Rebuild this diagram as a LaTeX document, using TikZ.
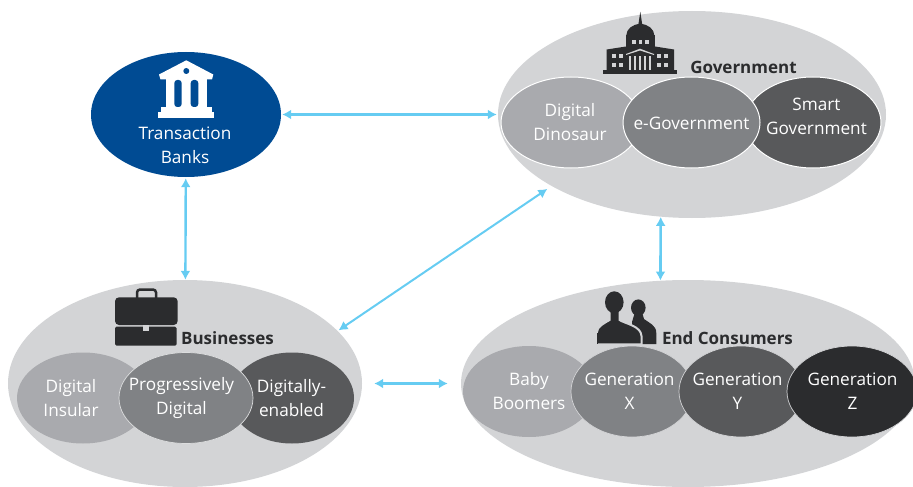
\documentclass[tikz,border=0pt]{standalone}
\usepackage{fontspec}
\setmainfont{Open Sans}
\usetikzlibrary{arrows.meta,shapes.geometric}
\definecolor{backgrey}{HTML}{D3D4D6}
\definecolor{lightgrey}{HTML}{A9AAAE}
\definecolor{midgrey}{HTML}{808285}
\definecolor{darkgrey}{HTML}{58595B}
\definecolor{icongrey}{HTML}{2B2C2E}
\definecolor{bankblue}{HTML}{004B93}
\definecolor{linkblue}{HTML}{66CCF2}
\tikzset{
	oval/.style={ellipse,inner sep=0pt,fill=#1},
	txt/.style={text=white,align=center,inner sep=0pt,font=\fontsize{17.2}{24}\selectfont},
	head/.style={text=icongrey,inner sep=0pt,font=\fontsize{17}{20}\selectfont\bfseries},
	link/.style={<->,line width=3pt,linkblue},
}
\begin{document}
\begin{tikzpicture}[>={Latex[length=9pt,width=10pt]},x=1pt,y=-1pt]
	\useasboundingbox (0,0) rectangle (913,487);

	% groups
	\node[oval=bankblue,minimum width=190pt,minimum height=125pt] (banks) at (186,114.5) {};
	\node[oval=backgrey,minimum width=388pt,minimum height=207pt] (gov) at (692,114.5) {};
	\node[oval=backgrey,minimum width=354pt,minimum height=207pt] (biz) at (185,383.5) {};
	\node[oval=backgrey,minimum width=454pt,minimum height=207pt] (cons) at (688,383.5) {};

	% government
	\tikzset{every node/.append style={minimum height=91pt}}
	\node[oval=lightgrey,draw=white,line width=1pt,minimum width=140pt] (dino) at (571,122.5) {};
	\node[oval=darkgrey,draw=white,line width=1pt,minimum width=136pt] (smart) at (813,122.5) {};
	\node[oval=midgrey,draw=white,line width=1pt,minimum width=137pt] (egov) at (691.5,122.5) {};

	% businesses
	\node[oval=lightgrey,minimum width=132pt] (insular) at (83,398) {};
	\node[oval=darkgrey,minimum width=124pt] (enabled) at (292,398) {};
	\node[oval=midgrey,draw=backgrey!80!white,line width=.7pt,minimum width=134pt] (progress) at (186,398) {};

	% consumers
	\node[oval=lightgrey,minimum width=132pt] (baby) at (529,391.5) {};
	\node[oval=midgrey,draw=backgrey,line width=.7pt,minimum width=122pt] (genx) at (632,391.5) {};
	\node[oval=darkgrey,draw=backgrey,line width=.7pt,minimum width=124pt] (geny) at (741,391.5) {};
	\node[oval=icongrey,draw=backgrey,line width=.7pt,minimum width=130pt] (genz) at (852,391.5) {};
	\tikzset{every node/.append style={minimum height=0pt}}

	% labels
	\node[txt] (banktxt) at (185,145) {Transaction\\Banks};
	\node[txt] (dinotxt) at (570,122) {Digital\\Dinosaur};
	\node[txt] (egovtxt) at (691.5,123) {e-Government};
	\node[txt] (smarttxt) at (816.5,116.5) {Smart\\Government};
	\node[txt] (insulartxt) at (71,398) {Digital\\Insular};
	\node[txt] (progresstxt) at (181.5,398) {Progressively\\Digital};
	\node[txt] (enabledtxt) at (291.5,398) {Digitally-\\enabled};
	\node[txt] (babytxt) at (529,391.5) {Baby\\Boomers};
	\node[txt] (genxtxt) at (629.5,391.5) {Generation\\X};
	\node[txt] (genytxt) at (737.5,391.5) {Generation\\Y};
	\node[txt] (genztxt) at (852.5,391.5) {Generation\\Z};
	\node[head] (govhead) at (743.5,67.5) {Government};
	\node[head] (bizhead) at (227.5,338) {Businesses};
	\node[head] (conshead) at (727.5,338) {End Consumers};

	% links
	\draw[link,shorten <=1pt,shorten >=1pt] (banks) -- (gov);
	\draw[link,line width=2.4pt,shorten <=1pt] (banks) -- (biz);
	\draw[link,line width=2pt,shorten <=5pt,shorten >=1pt] (gov.207) -- (biz.19);
	\draw[link,line width=2.6pt] (gov.253) -- (cons.105);
	\draw[link,shorten <=12pt,shorten >=13pt] (biz.east) -- (cons.west);

	% bank icon
	\fill[white] (159,74.5) -- (186.3,60.3) -- (213.3,74.5) -- (212,79.5) -- (160.5,79.5) -- cycle;
	\fill[bankblue] (186.3,71) circle [radius=3];
	\fill[white] (165.7,79) rectangle (206.7,108);
	\fill[bankblue,rounded corners=3pt] (174.3,80) rectangle (181.7,107);
	\fill[bankblue,rounded corners=3pt] (190.7,80) rectangle (198.3,107);
	\fill[white] (161,107) rectangle (211.7,112);
	\fill[white] (158.3,111.7) rectangle (214,117.7);

	% capitol icon
	\fill[icongrey] (603.3,70) rectangle (676.7,74.3);
	\fill[icongrey] (606.7,70.5) -- (606.7,49.5) -- (626,46.5) -- (655,46.5) -- (674,49.5) -- (674,70.5) -- cycle;
	\fill[icongrey] (625.7,35) rectangle (655,47);
	\fill[icongrey] (626.3,35.5) arc [start angle=180,end angle=360,x radius=14,y radius=11.5];
	\fill[icongrey] (640.3,11.7) -- (642.3,25) -- (638.3,25) -- cycle;
	\foreach \wx in {632,638.5,645}
		\fill[backgrey] (\wx,40) rectangle ++(3.5,4);
	\foreach \wx in {612.3,619,657,663.5}
		\foreach \wy in {54.5,63.5}
			\fill[backgrey] (\wx,\wy) rectangle ++(4,4);
	\fill[backgrey] (626,54) -- (640,48.7) -- (654,54) -- (654,55) -- (640,50.5) -- (626,55) -- cycle;
	\foreach \wx in {628.5,633.5,638.5,643.5,648.5}
		\fill[backgrey] (\wx,56) rectangle ++(2.2,14);

	% briefcase icon
	\draw[icongrey,line width=2.5pt,rounded corners=3pt] (137,298) -- (137,289.5) -- (156,289.5) -- (156,298);
	\fill[icongrey,rounded corners=4pt] (115,297.3) rectangle (177.7,325);
	\fill[icongrey,rounded corners=1.5pt] (115,326.7) rectangle (176.7,345.7);
	\fill[backgrey] (143.3,325) rectangle (149,330.7);

	% people icon
	\fill[icongrey] (638.3,307.7) ellipse [x radius=7.3,y radius=8.3];
	\fill[icongrey] (632,344) -- (632,322) -- (635,312) -- (642,312) -- (644,319) .. controls (649,323) and (656.3,325) .. (656.3,333) -- (656.3,344) -- cycle;
	\fill[icongrey,draw=backgrey,line width=2pt] (596.7,344.3) -- (596.7,333) .. controls (597,326) and (604,323.5) .. (609.5,320) -- (609.5,308) -- (619.5,308) -- (619.5,320) .. controls (626,324) and (641,326) .. (641.5,336) -- (641.5,344.3) -- cycle;
	\fill[icongrey] (596.7,333) rectangle (598,344);
	\fill[icongrey] (614.3,302.3) ellipse [x radius=9.3,y radius=11];
\end{tikzpicture}
\end{document}
